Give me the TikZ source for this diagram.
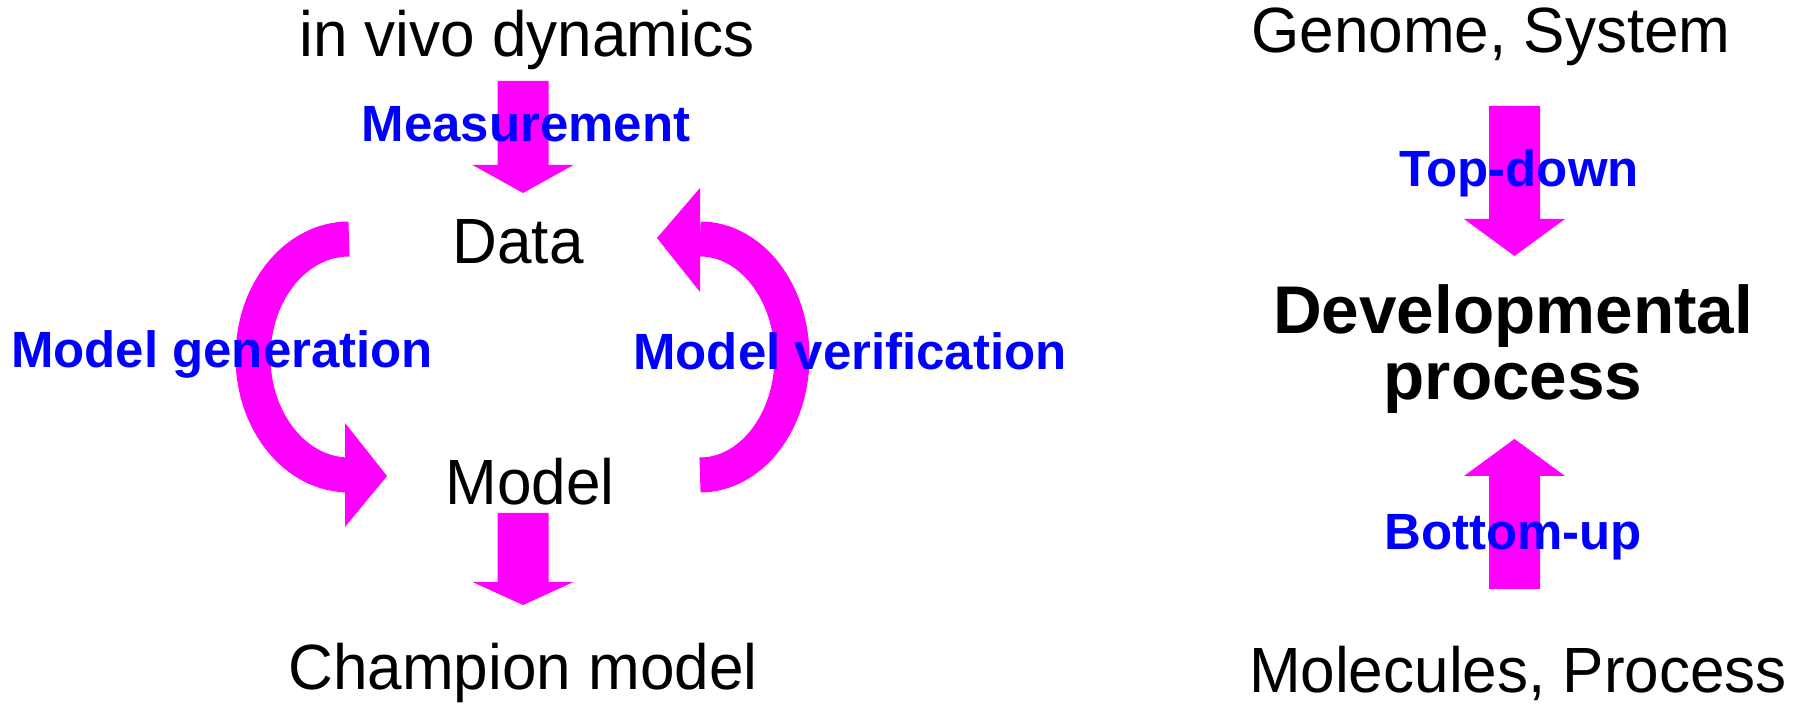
\documentclass[tikz,border=0pt]{standalone}
\usepackage{fontspec}
\setmainfont{Liberation Sans}
\newfontfamily\narrowfont[FakeStretch=0.97]{Liberation Sans}
\usetikzlibrary{calc}

\definecolor{arrowpink}{RGB}{255,0,255}
\definecolor{actionblue}{RGB}{0,0,255}

% block arrow: tail, tip, head length
\newcommand{\fatarrow}[3]{%
  \coordinate (hb) at ($(#2)!#3!(#1)$);
  \fill[arrowpink] ($(#1)!2.55mm!90:(#2)$) -- ($(hb)!2.55mm!90:(#2)$) -- ($(hb)!5.05mm!90:(#2)$)
    -- (#2) -- ($(hb)!5.05mm!-90:(#2)$) -- ($(hb)!2.55mm!-90:(#2)$) -- ($(#1)!2.55mm!-90:(#2)$) -- cycle;
}

\begin{document}
\begin{tikzpicture}[x=0.1mm,y=-0.1mm,
	every node/.style={inner sep=0pt},
	term/.style={font=\narrowfont\fontsize{18.2}{22}\selectfont},
	focus/.style={font=\bfseries\fontsize{19.2}{18.8}\selectfont, align=center},
	action/.style={text=actionblue, font=\bfseries\fontsize{14.5}{16}\selectfont}]
	\useasboundingbox (0,0) rectangle (1801,705);
	% left cycle
	\coordinate (meas from) at (523,81);
	\coordinate (meas to) at (523,193);
	\coordinate (champ from) at (523,513);
	\coordinate (champ to) at (523,605);
	\coordinate (gen from) at (349,239);
	\coordinate (ver from) at (700,475);
	\fatarrow{meas from}{meas to}{2.8mm}
	\fatarrow{champ from}{champ to}{2.3mm}
	\draw [arrowpink, line width=3.5mm] (gen from) arc [start angle=270, end angle=90, x radius=96, y radius=118] coordinate (gen to);
	\fill [arrowpink] (345,423) -- (387,476) -- (345,527) -- cycle;
	\draw [arrowpink, line width=3.5mm] (ver from) arc [start angle=90, end angle=-90, x radius=92, y radius=118] coordinate (ver to);
	\fill [arrowpink] (700,188) -- (657,238) -- (700,292) -- cycle;
	% right column
	\coordinate (top from) at (1514.5,106);
	\coordinate (top to) at (1514.5,256);
	\coordinate (bot from) at (1514.5,589);
	\coordinate (bot to) at (1514.5,439);
	\fatarrow{top from}{top to}{3.7mm}
	\fatarrow{bot from}{bot to}{3.7mm}

	\node [term, anchor=base] (vivo) at (527,57) {in vivo dynamics};
	\node [term, anchor=base] (data) at (518,264) {Data};
	\node [term, anchor=base] (model) at (530,505) {Model};
	\node [term, anchor=base] (champion) at (523,690) {Champion model};
	\node [term, anchor=base] (genome) at (1491,53) {Genome, System};
	\node [term, anchor=base] (molecules) at (1518,693) {Molecules, Process};
	\node [focus] (devel) at (1513,349) {Developmental\\process};
	\node [action, anchor=base] (measure) at (526,142) {Measurement};
	\node [action, anchor=base] (generate) at (222,368) {Model generation};
	\node [action, anchor=base] (verify) at (850,370) {Model verification};
	\node [action, anchor=base] (topdown) at (1519,187) {Top-down};
	\node [action, anchor=base] (bottomup) at (1513,550) {Bottom-up};
\end{tikzpicture}
\end{document}
